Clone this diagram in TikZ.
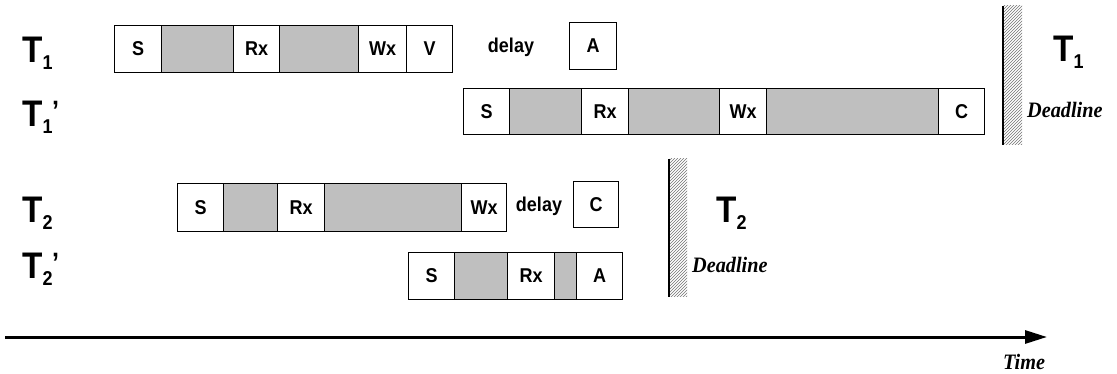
\documentclass[tikz,border=0pt]{standalone}
\usepackage{fontspec}
\setmainfont{Liberation Sans}
\newfontfamily\dlfont{Liberation Serif}[FakeStretch=0.92]
\newfontfamily\boxfont{Liberation Sans}[FakeStretch=0.9]
\usetikzlibrary{arrows.meta,patterns}
\newcommand\subf{\fontsize{20}{20}\selectfont}
\newcommand\TL[1]{T\raisebox{-7pt}{\subf #1}}
\newcommand\TLp[1]{T\raisebox{-7pt}{\subf #1}\kern-0.5pt\raisebox{6pt}{\fontsize{28}{28}\selectfont ’}}
\tikzset{
  seg/.style={draw, line width=1.1pt, inner sep=0pt, anchor=north west,
    font=\boxfont\bfseries\fontsize{20}{20}\selectfont},
  wseg/.style={seg, fill=white},
  gseg/.style={seg, fill=black!25},
  biglab/.style={inner sep=0pt, anchor=base west, font=\boxfont\bfseries\fontsize{37}{37}\selectfont},
  plain/.style={inner sep=0pt, font=\boxfont\bfseries\fontsize{20}{20}\selectfont},
  dl/.style={inner sep=0pt, font=\dlfont\bfseries\itshape\fontsize{22}{22}\selectfont},
  hatch/.style={pattern=north east lines, pattern color=black!55},
}
\begin{document}
\begin{tikzpicture}[x=1pt,y=-1pt]
\useasboundingbox (0,0) rectangle (1117,374);
% left labels
\node[biglab] (l1) at (22,63) {\TL{1}};
\node[biglab] (l1p) at (22,127) {\TLp{1}};
\node[biglab] (l2) at (22,223) {\TL{2}};
\node[biglab] (l2p) at (22,279) {\TLp{2}};
% row T1
\begin{scope}[every node/.append style={minimum height=47pt}]
\node[wseg, minimum width=47pt] (a1) at (114,25) {S};
\node[gseg, minimum width=72pt] (a2) at (161,25) {};
\node[wseg, minimum width=46pt] (a3) at (233,25) {Rx};
\node[gseg, minimum width=79pt] (a4) at (279,25) {};
\node[wseg, minimum width=48pt] (a5) at (358,25) {Wx};
\node[wseg, minimum width=46pt] (a6) at (406,25) {V};
\node[wseg, minimum width=47pt] (a7) at (569,22) {A};
\end{scope}
\node[plain] (d1) at (511,47) {delay};
% row T1'
\begin{scope}[every node/.append style={minimum height=46pt}]
\node[wseg, minimum width=46pt] (b1) at (463,88) {S};
\node[gseg, minimum width=72pt] (b2) at (509,88) {};
\node[wseg, minimum width=47pt] (b3) at (581,88) {Rx};
\node[gseg, minimum width=91pt] (b4) at (628,88) {};
\node[wseg, minimum width=47pt] (b5) at (719,88) {Wx};
\node[gseg, minimum width=172pt] (b6) at (766,88) {};
\node[wseg, minimum width=46pt] (b7) at (938,88) {C};
\end{scope}
% row T2
\begin{scope}[every node/.append style={minimum height=48pt}]
\node[wseg, minimum width=46pt] (c1) at (177,183) {S};
\node[gseg, minimum width=54pt] (c2) at (223,183) {};
\node[wseg, minimum width=47pt] (c3) at (277,183) {Rx};
\node[gseg, minimum width=137pt] (c4) at (324,183) {};
\node[wseg, minimum width=45pt] (c5) at (461,183) {Wx};
\node[wseg, minimum width=45pt, minimum height=46pt] (c6) at (573,181) {C};
\end{scope}
\node[plain] (d2) at (539,206) {delay};
% row T2'
\begin{scope}[every node/.append style={minimum height=47pt}]
\node[wseg, minimum width=46pt] (e1) at (408,252) {S};
\node[gseg, minimum width=53pt] (e2) at (454,252) {};
\node[wseg, minimum width=47pt] (e3) at (507,252) {Rx};
\node[gseg, minimum width=22pt] (e4) at (554,252) {};
\node[wseg, minimum width=46pt] (e5) at (576,252) {A};
\end{scope}
% deadline bars
\fill[hatch] (1003,6) rectangle (1022,145);
\draw[line width=1.2pt] (1003,6) -- (1003,145);
\fill[hatch] (669,159) rectangle (687,297);
\draw[line width=1.2pt] (669,159) -- (669,297);
\node[biglab] (r1) at (1053,62) {\TL{1}};
\node[dl, anchor=west] (dl1) at (1027,110) {Deadline};
\node[biglab] (r2) at (716,223) {\TL{2}};
\node[dl, anchor=west] (dl2) at (692,265) {Deadline};
% time axis
\coordinate (ts) at (5,337);
\coordinate (te) at (1047,337);
\draw[line width=3pt, -{Triangle[length=22pt,width=13pt]}] (ts) -- (te);
\node[dl] (tm) at (1024,362) {Time};
\end{tikzpicture}
\end{document}
